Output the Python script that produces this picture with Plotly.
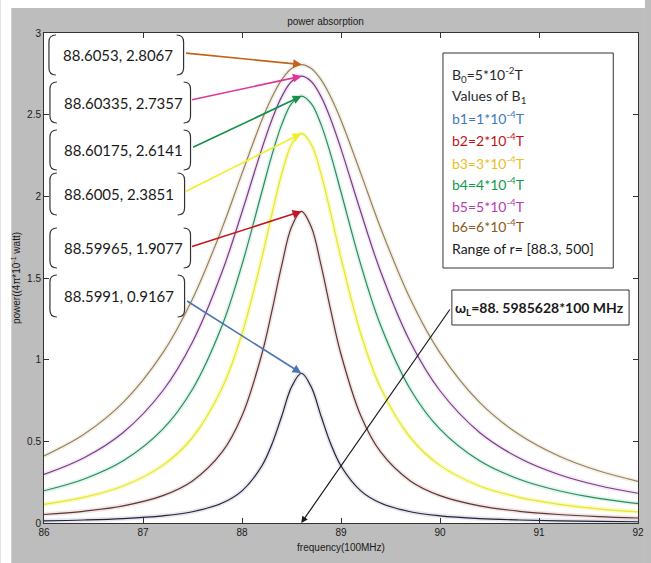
import plotly.graph_objects as go

# Frequency samples (units of 100 MHz)
freq = [86.0, 86.4, 86.8, 87.2, 87.5, 87.8, 88.0, 88.2, 88.3, 88.4, 88.5, 88.6, 88.7,
        88.8, 88.9, 89.0, 89.2, 89.4, 89.7, 90.0, 90.4, 90.8, 91.2, 91.6, 92.0]

# Absorbed power for each B1 value
p_b1 = [0.0132, 0.0183, 0.0270, 0.0438, 0.0689, 0.1221, 0.1967, 0.3490, 0.4787, 0.6517, 0.8321, 0.9167, 0.8321,
        0.6517, 0.4787, 0.3490, 0.1967, 0.1221, 0.0689, 0.0438, 0.0270, 0.0183, 0.0132, 0.0099, 0.0077]
p_b2 = [0.0519, 0.0717, 0.1052, 0.1678, 0.2578, 0.4350, 0.6568, 1.0332, 1.2924, 1.5745, 1.8118, 1.9077, 1.8118,
        1.5745, 1.2924, 1.0332, 0.6568, 0.4350, 0.2578, 0.1678, 0.1052, 0.0717, 0.0519, 0.0392, 0.0307]
p_b3 = [0.1143, 0.1567, 0.2267, 0.3528, 0.5235, 0.8279, 1.1589, 1.6223, 1.8862, 2.1342, 2.3170, 2.3851, 2.3170,
        2.1342, 1.8862, 1.6223, 1.1589, 0.8279, 0.5235, 0.3528, 0.2267, 0.1567, 0.1143, 0.0869, 0.0682]
p_b4 = [0.1973, 0.2676, 0.3805, 0.5743, 0.8188, 1.2104, 1.5821, 2.0265, 2.2476, 2.4374, 2.5676, 2.6141, 2.5676,
        2.4374, 2.2476, 2.0265, 1.5821, 1.2104, 0.8188, 0.5743, 0.3805, 0.2676, 0.1973, 0.1510, 0.1191]
p_b5 = [0.2972, 0.3980, 0.5546, 0.8097, 1.1082, 1.5397, 1.9039, 2.2908, 2.4663, 2.6090, 2.7029, 2.7357, 2.7029,
        2.6090, 2.4663, 2.2908, 1.9039, 1.5397, 1.1082, 0.8097, 0.5546, 0.3980, 0.2972, 0.2294, 0.1820]
p_b6 = [0.4100, 0.5413, 0.7383, 1.0415, 1.3716, 1.8068, 2.1404, 2.4656, 2.6040, 2.7129, 2.7826, 2.8067, 2.7826,
        2.7129, 2.6040, 2.4656, 2.1404, 1.8068, 1.3716, 1.0415, 0.7383, 0.5413, 0.4100, 0.3196, 0.2553]

# Peak points marked on the chart (frequency, power)
peak_freq = [88.5991, 88.59965, 88.6005, 88.60175, 88.60335, 88.6053]
peak_power = [0.9167, 1.9077, 2.3851, 2.6141, 2.7357, 2.8067]
peak_text = ["88.5991, 0.9167", "88.59965, 1.9077", "88.6005, 2.3851",
             "88.60175, 2.6141", "88.60335, 2.7357", "88.6053, 2.8067"]

larmor_freq = 88.5985628
larmor_text = "<b>ω<sub>L</sub>=88. 5985628*100 MHz</b>"

legend_lines = ["B<sub>0</sub>=5*10<sup>-2</sup>T", "Values of B<sub>1</sub>",
                "b1=1*10<sup>-4</sup>T", "b2=2*10<sup>-4</sup>T", "b3=3*10<sup>-4</sup>T",
                "b4=4*10<sup>-4</sup>T", "b5=5*10<sup>-4</sup>T", "b6=6*10<sup>-4</sup>T",
                "Range of r= [88.3, 500]"]

x_ticks = [86, 87, 88, 89, 90, 91, 92]
y_ticks = [0, 0.5, 1, 1.5, 2, 2.5, 3]
y_tick_text = ["0", "0.5", "1", "1.5", "2", "2.5", "3"]

series = [p_b1, p_b2, p_b3, p_b4, p_b5, p_b6]
line_colors = ["#22223a", "#5e3434", "#e4e630", "#2a8a62", "#74407e", "#94825e"]
halo_colors = ["rgba(60,60,110,0.12)", "rgba(150,60,60,0.12)", "rgba(240,240,60,0.3)",
               "rgba(60,190,120,0.15)", "rgba(180,80,200,0.13)", "rgba(200,170,110,0.16)"]
legend_colors = ["#2a2a2a", "#2a2a2a", "#3d7ab8", "#c0141c", "#e8c020", "#109a48", "#b43cb0",
                 "#8b5a20", "#1a1a1a"]
arrow_colors = ["#4a76b0", "#c8141e", "#f0f028", "#14904a", "#e0359a", "#c4621c"]

# Plot area in pixels: x 44..644, y 33..523
L, R, T, B = 44, 644, 33, 523
W, H = 651, 563


def px(x):
    return (x - L) / (R - L)


def py(y):
    return (B - y) / (B - T)


fig = go.Figure()

for vals, lc, hc in zip(series, line_colors, halo_colors):
    fig.add_trace(go.Scatter(x=freq, y=vals, mode="lines", line=dict(color=hc, width=4.5, shape="spline"),
                             hoverinfo="skip", showlegend=False))
    fig.add_trace(go.Scatter(x=freq, y=vals, mode="lines", line=dict(color=lc, width=1.2, shape="spline"),
                             showlegend=False))

shapes = []
annotations = []

# Grey window background with a white strip on the top and left edges
shapes.append(dict(type="rect", xref="paper", yref="paper", x0=px(0), x1=px(W), y0=py(0), y1=py(H),
                   fillcolor="#ffffff", line=dict(width=0), layer="below"))
shapes.append(dict(type="rect", xref="paper", yref="paper", x0=px(11), x1=px(W), y0=py(8), y1=py(H),
                   fillcolor="#bdbdbd", line=dict(width=0), layer="below"))
shapes.append(dict(type="rect", xref="paper", yref="paper", x0=0, x1=1, y0=0, y1=1,
                   fillcolor="#ffffff", line=dict(width=0), layer="below"))

# Bracketed value boxes, listed bottom to top to pair with the peaks
boxes = [(50, 275, 186, 317), (50, 228, 192, 268), (50, 173, 186, 215),
         (50, 130, 192, 170), (50, 82, 192, 123), (49, 35, 185, 75)]
tails = [(187, 300), (192, 247), (186, 192), (193, 148), (192, 100), (186, 53)]


def bracket(x0, y0, x1, y1, side):
    r = 7
    if side == "left":
        return (f"M {px(x0 + r)},{py(y0)} Q {px(x0)},{py(y0)} {px(x0)},{py(y0 + r)} "
                f"L {px(x0)},{py(y1 - r)} Q {px(x0)},{py(y1)} {px(x0 + r)},{py(y1)}")
    return (f"M {px(x1 - r)},{py(y0)} Q {px(x1)},{py(y0)} {px(x1)},{py(y0 + r)} "
            f"L {px(x1)},{py(y1 - r)} Q {px(x1)},{py(y1)} {px(x1 - r)},{py(y1)}")


for (x0, y0, x1, y1), txt in zip(boxes, peak_text):
    for side in ("left", "right"):
        shapes.append(dict(type="path", xref="paper", yref="paper", path=bracket(x0, y0, x1, y1, side),
                           line=dict(color="#333333", width=1.2), layer="above"))
    annotations.append(dict(xref="paper", yref="paper", x=px(x0 + 12), y=py((y0 + y1) / 2),
                            xanchor="left", yanchor="middle", text=txt, showarrow=False,
                            font=dict(family="Lato, Open Sans, sans-serif", size=15, color="#1a1a1a")))

for (tx, ty), fx, fy, col in zip(tails, peak_freq, peak_power, arrow_colors):
    annotations.append(dict(x=fx, y=fy, xref="x", yref="y", text="", showarrow=True,
                            axref="x", ayref="y", ax=86 + (tx - L) / 100, ay=(B - ty) / ((B - T) / 3),
                            arrowhead=2, arrowsize=1.1, arrowwidth=1.6, arrowcolor=col, standoff=0))

# Larmor frequency marker
annotations.append(dict(x=larmor_freq, y=0, xref="x", yref="y", text="", showarrow=True,
                        axref="x", ayref="y", ax=86 + (455 - L) / 100, ay=(B - 308) / ((B - T) / 3),
                        arrowhead=2, arrowsize=1.1, arrowwidth=1.2, arrowcolor="#1a1a1a", standoff=0))
shapes.append(dict(type="rect", xref="paper", yref="paper", x0=px(456), x1=px(635), y0=py(290), y1=py(325),
                   fillcolor="#ffffff", line=dict(color="#333333", width=1), layer="above"))
annotations.append(dict(xref="paper", yref="paper", x=px(545), y=py(308), text=larmor_text, showarrow=False,
                        xanchor="center", yanchor="middle",
                        font=dict(family="Lato, Open Sans, sans-serif", size=14, color="#1a1a1a")))

# Parameter box
shapes.append(dict(type="rect", xref="paper", yref="paper", x0=px(447), x1=px(619), y0=py(53), y1=py(268),
                   fillcolor="#ffffff", line=dict(color="#333333", width=1), layer="above"))
legend_y = [74, 96, 118, 140, 162, 183, 205, 226, 248]
for txt, ly, col in zip(legend_lines, legend_y, legend_colors):
    annotations.append(dict(xref="paper", yref="paper", x=px(454), y=py(ly), text=txt, showarrow=False,
                            xanchor="left", yanchor="middle",
                            font=dict(family="Lato, Open Sans, sans-serif", size=14, color=col)))

small_font = dict(family="Liberation Sans Narrow, Liberation Sans, Arial, sans-serif", size=10, color="#1a1a1a")

fig.update_layout(
    width=W, height=H,
    margin=dict(l=L, r=W - R, t=T, b=H - B, pad=0),
    paper_bgcolor="#bdbdbd",
    plot_bgcolor="#ffffff",
    showlegend=False,
    title=dict(text="power absorption", x=px(344), xanchor="center", y=1 - 21 / H, yanchor="middle",
               font=small_font),
    xaxis=dict(range=[86, 92], tickvals=x_ticks, ticks="inside", ticklen=5, tickcolor="#333333",
               showline=True, linecolor="#333333", linewidth=1, mirror="ticks", showgrid=False,
               zeroline=False, tickfont=small_font,
               title=dict(text="frequency(100MHz)", font=small_font, standoff=6)),
    yaxis=dict(range=[0, 3], tickvals=y_ticks, ticktext=y_tick_text, ticks="inside", ticklen=5,
               tickcolor="#333333", showline=True, linecolor="#333333", linewidth=1, mirror="ticks",
               showgrid=False, zeroline=False, tickfont=small_font,
               title=dict(text="power((4π*10<sup>-1</sup> watt)", font=small_font, standoff=4)),
    shapes=shapes,
    annotations=annotations,
)

fig.write_html("out.html")
